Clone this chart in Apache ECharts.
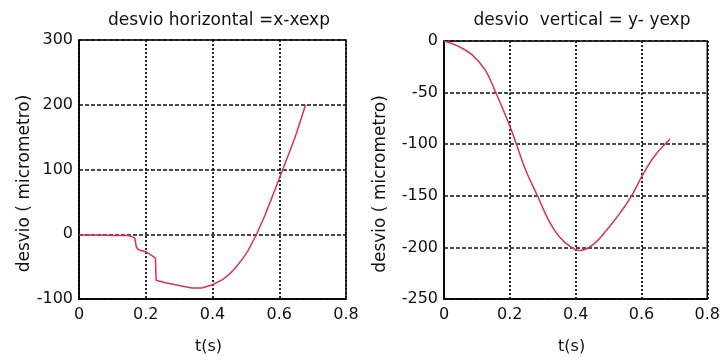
<!DOCTYPE html>
<html>
<head>
<meta charset="utf-8">
<script src="https://cdn.jsdelivr.net/npm/echarts@6/dist/echarts.min.js"></script>
<style>
html,body{margin:0;padding:0;background:#fff;}
#chart{width:723px;height:360px;}
</style>
</head>
<body>
<div id="chart"></div>
<script>
// Left panel: horizontal deviation
var tH = [0, 0.05, 0.10, 0.148, 0.160, 0.167, 0.172, 0.178, 0.20, 0.215, 0.229, 0.231, 0.259, 0.308, 0.338, 0.368, 0.40, 0.43, 0.45, 0.467, 0.49, 0.507, 0.532, 0.557, 0.582, 0.60, 0.612, 0.647, 0.679];
var vH = [-1, -1, -2, -2, -4, -6, -20, -24, -27, -32, -37, -71, -75, -80, -83, -83, -78, -70, -62, -53, -38, -25, 0, 29, 62, 86, 102, 149, 200];
// Right panel: vertical deviation
var tV = [0, 0.043, 0.084, 0.125, 0.156, 0.197, 0.22, 0.248, 0.284, 0.32, 0.351, 0.383, 0.413, 0.454, 0.495, 0.534, 0.57, 0.605, 0.641, 0.687];
var vV = [0, -5, -13, -28, -49, -80, -100, -125, -150, -175, -190, -199, -203, -197, -183, -167, -150, -129, -111, -95];

var titleH = 'desvio horizontal =x-xexp';
var titleV = 'desvio  vertical = y- yexp';
var yName = 'desvio ( micrometro)';
var xName = 't(s)';

function pairs(t, v) { return t.map(function (x, i) { return [x, v[i]]; }); }

var FONT = 'DejaVu Sans';
var lineColor = '#dc2f62';

function xAxisCfg(gi) {
  return {
    type: 'value', gridIndex: gi, min: 0, max: 0.8, interval: 0.2,
    name: xName, nameLocation: 'middle', nameGap: 40,
    nameTextStyle: { fontFamily: FONT, fontSize: 16, color: '#111', padding: [0, 8, 0, 0] },
    axisLine: { show: true, onZero: false, lineStyle: { color: '#000', width: 1.5 } },
    axisTick: { show: false },
    axisLabel: { fontFamily: FONT, fontSize: 16, color: '#111', margin: 8,
      formatter: function (v) { return v === 0 ? '0' : String(+v.toFixed(1)); } },
    splitLine: { show: true, lineStyle: { color: '#111', width: 1.8, type: [2, 2] } }
  };
}
function yAxisCfg(gi, min, max, interval, gap) {
  return {
    type: 'value', gridIndex: gi, min: min, max: max, interval: interval,
    name: yName, nameLocation: 'middle', nameGap: gap, nameRotate: 90,
    nameTextStyle: { fontFamily: FONT, fontSize: 17, color: '#111', padding: [0, 28, 0, 0] },
    axisLine: { show: true, onZero: false, lineStyle: { color: '#000', width: 1.5 } },
    axisTick: { show: false },
    axisLabel: { fontFamily: FONT, fontSize: 16, color: '#111', margin: 6 },
    splitLine: { show: true, lineStyle: { color: '#111', width: 1.6, type: [4, 2] } }
  };
}

var chart = echarts.init(document.getElementById('chart'), null, { renderer: 'canvas' });
chart.setOption({
  backgroundColor: '#fff',
  animation: false,
  title: [
    { text: titleH, left: 214, top: 7, textAlign: 'center',
      textStyle: { fontFamily: FONT, fontSize: 17, fontWeight: 'normal', color: '#111' } },
    { text: titleV, left: 577, top: 7, textAlign: 'center',
      textStyle: { fontFamily: FONT, fontSize: 17, fontWeight: 'normal', color: '#111' } }
  ],
  grid: [
    { left: 79, top: 40, width: 267, height: 263, show: true, borderColor: '#000', borderWidth: 1.5 },
    { left: 444, top: 41, width: 265, height: 262, show: true, borderColor: '#000', borderWidth: 1.5 }
  ],
  xAxis: [xAxisCfg(0), xAxisCfg(1)],
  yAxis: [yAxisCfg(0, -100, 300, 100, 44), yAxisCfg(1, -250, 0, 50, 55)],
  series: [
    { type: 'line', xAxisIndex: 0, yAxisIndex: 0, data: pairs(tH, vH), showSymbol: false,
      lineStyle: { color: lineColor, width: 1.5 } },
    { type: 'line', xAxisIndex: 1, yAxisIndex: 1, data: pairs(tV, vV), showSymbol: false, smooth: 0.4,
      lineStyle: { color: lineColor, width: 1.5 } }
  ]
});
</script>
</body>
</html>
